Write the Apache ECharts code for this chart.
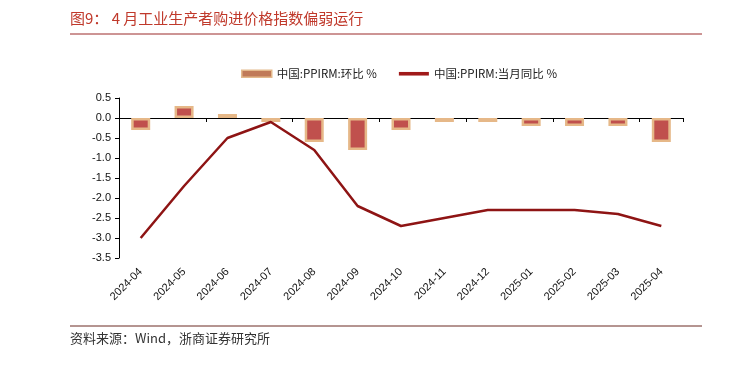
<!DOCTYPE html>
<html><head><meta charset="utf-8">
<script src="https://cdn.jsdelivr.net/npm/echarts@6/dist/echarts.min.js"></script>
<style>html,body{margin:0;padding:0;background:#fff;}#c{width:746px;height:366px;}</style>
</head><body><div id="c"></div>
<script>
const categories = ['2024-04','2024-05','2024-06','2024-07','2024-08','2024-09','2024-10','2024-11','2024-12','2025-01','2025-02','2025-03','2025-04'];
const momValues = [-0.3, 0.3, 0.1, -0.1, -0.6, -0.8, -0.3, -0.1, -0.1, -0.2, -0.2, -0.2, -0.6];
const yoyValues = [-3.0, -1.7, -0.5, -0.1, -0.8, -2.2, -2.7, -2.5, -2.3, -2.3, -2.3, -2.4, -2.7];
const momName = '中国:PPIRM:环比 %';
const yoyName = '中国:PPIRM:当月同比 %';
const titleText = '图9： 4 月工业生产者购进价格指数偏弱运行';
const sourceText = '资料来源：Wind，浙商证券研究所';

const chart = echarts.init(document.getElementById('c'));
const cjk = '"Noto Sans CJK SC", "Liberation Sans", sans-serif';
chart.setOption({
  animation: false,
  backgroundColor: '#fff',
  graphic: [
    {type:'text', left:70, top:11, style:{text:titleText, fill:'#c0392b', font:'15px "Noto Sans CJK SC"'}},
    {type:'line', shape:{x1:70,y1:34,x2:702,y2:34}, style:{stroke:'#9b2a2a', lineWidth:1}},
    {type:'line', shape:{x1:70,y1:326,x2:702,y2:326}, style:{stroke:'#6b2a22', lineWidth:1}},
    {type:'text', left:70, top:332, style:{text:sourceText, fill:'#333', font:'13px "Noto Sans CJK SC"'}}
  ],
  legend: {
    top: 63, left: 236,
    itemGap: 22, itemWidth: 30, itemHeight: 7,
    textStyle: {fontFamily: cjk, fontSize: 11.5, color: '#222'},
    data: [
      {name: momName, icon: 'rect', itemStyle:{color:'#c07a58', borderColor:'#e3b98c', borderWidth:1.5}},
      {name: yoyName, icon: 'path://M0,0H10V1.2H0Z', itemStyle:{color:'#a01a1a'}}
    ]
  },
  grid: {left:119, right:63, top:98, bottom:108},
  xAxis: [
    {type:'category', data:categories, position:'bottom',
     axisLine:{show:false, onZero:false}, axisTick:{show:false},
     axisLabel:{rotate:45, fontFamily:'"Liberation Sans", Arial', fontSize:11, color:'#111', margin:12, interval:0}},
    {type:'category', data:categories, position:'bottom',
     axisLine:{show:true, onZero:true, lineStyle:{color:'#000', width:1}},
     axisTick:{show:true, inside:false, length:4, lineStyle:{color:'#000'}},
     axisLabel:{show:false}}
  ],
  yAxis: {
    type:'value', min:-3.5, max:0.5, interval:0.5,
    splitLine:{show:false},
    axisLine:{show:true, lineStyle:{color:'#000'}},
    axisTick:{show:true, length:4, lineStyle:{color:'#000'}},
    axisLabel:{formatter:v=>v.toFixed(1), fontFamily:'"Liberation Sans", Arial', fontSize:11, color:'#111', margin:8}
  },
  series: [
    {name: momName, type:'bar', data: momValues, barWidth: 19,
     itemStyle:{color:'#c0504d', borderColor:'#e6b888', borderWidth:2.5}},
    {name: yoyName, type:'line', data: yoyValues, symbol:'none',
     lineStyle:{color:'#8e1414', width:2.5}}
  ]
});
</script></body></html>
